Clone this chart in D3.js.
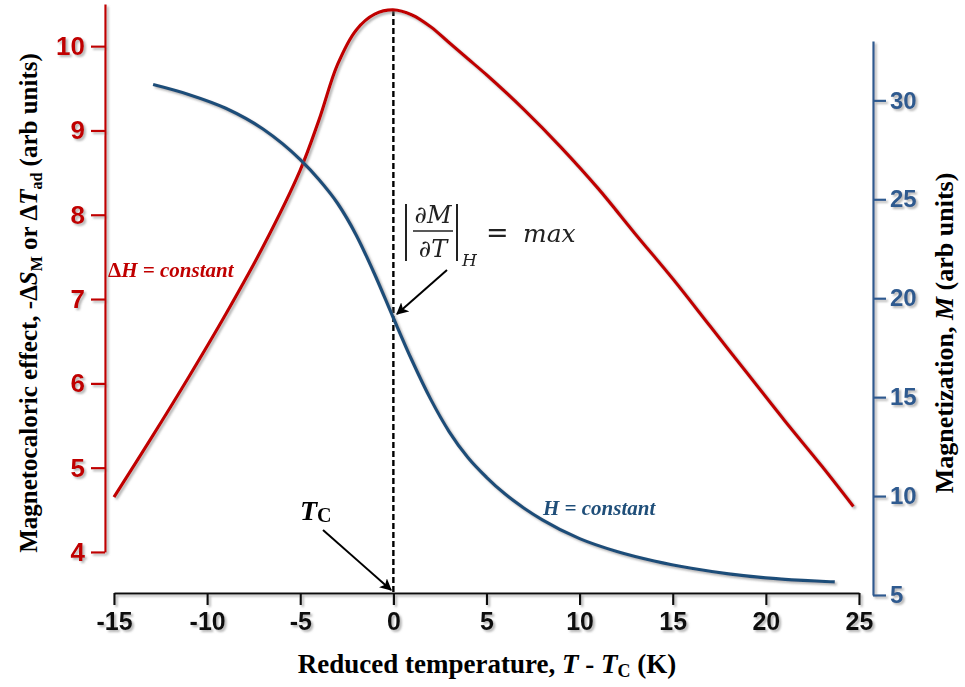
<!DOCTYPE html>
<html>
<head>
<meta charset="utf-8">
<script src="https://cdn.jsdelivr.net/npm/d3@7"></script>
<style>
  body { margin: 0; background: #fff; }
  svg { display: block; }
  .serif { font-family: "Liberation Serif", "Times New Roman", serif; font-weight: bold; }
  .tick text { font-family: "Liberation Sans Narrow", "Liberation Sans", Arial, sans-serif; font-weight: bold; }
</style>
</head>
<body>
<div class="graph-goes-here"></div>
<script>
// tick values
var tempTicks = [-15, -10, -5, 0, 5, 10, 15, 20, 25];
var mceTicks = [4, 5, 6, 7, 8, 9, 10];
var magTicks = [5, 10, 15, 20, 25, 30];

// magnetocaloric effect (left axis)
var mceTemp = [-15, -13, -11, -9, -7, -5, -4, -3, -2, -1, 0, 1, 2, 3, 4, 5, 7, 9, 11, 13, 15, 17, 19, 21, 23, 24.7];
var mceValues = [4.65, 5.35, 6.07, 6.82, 7.62, 8.53, 9.12, 9.78, 10.19, 10.38, 10.43, 10.37, 10.23, 10.04, 9.85, 9.66, 9.25, 8.80, 8.31, 7.77, 7.24, 6.68, 6.12, 5.56, 5.02, 4.54];

// magnetization (right axis)
var magTemp = [-12.9, -11, -9, -7, -5, -4, -3, -2, -1, 0, 1, 2, 3, 4, 5, 6, 7, 8, 10, 12, 14, 16, 18, 20, 22, 23.7];
var magValues = [30.8, 30.3, 29.6, 28.55, 27.0, 26.0, 24.8, 23.2, 21.2, 19.0, 16.85, 14.9, 13.25, 11.95, 10.95, 10.1, 9.4, 8.8, 7.85, 7.2, 6.72, 6.35, 6.07, 5.87, 5.74, 5.66];

var red = "#c00000", blue = "#1f4e79", blueAxis = "#2f5a8f";
var width = 965, height = 687;

var svg = d3.select(".graph-goes-here")
    .append("svg")
    .attr("width", width)
    .attr("height", height);

var defs = svg.append("defs");
defs.append("filter").attr("id", "shadow")
    .attr("x", "-20%").attr("y", "-20%").attr("width", "140%").attr("height", "140%")
    .append("feDropShadow")
    .attr("dx", 2).attr("dy", 2).attr("stdDeviation", 1.2)
    .attr("flood-color", "#777").attr("flood-opacity", 0.55);
var marker = defs.append("marker").attr("id", "arrow")
    .attr("viewBox", "0 0 10 10").attr("refX", 9).attr("refY", 5)
    .attr("markerWidth", 6).attr("markerHeight", 6)
    .attr("markerUnits", "strokeWidth")
    .attr("orient", "auto");
marker.append("path").attr("d", "M0,0L10,5L0,10L2.5,5Z").attr("fill", "black");

var tempScale = d3.scaleLinear().domain([-15, 25]).range([114, 859]);
var mceScale = d3.scaleLinear().domain([4, 10.5]).range([552, 4]);
var magScale = d3.scaleLinear().domain([5, 33]).range([595, 41]);

var plain = d => String(d);

// axes
var tempAxis = svg.append("g")
    .attr("transform", "translate(0," + 593 + ")")
    .call(d3.axisBottom(tempScale).tickValues(tempTicks).tickSize(12).tickSizeOuter(0).tickPadding(4).tickFormat(plain));
tempAxis.selectAll("path, line").attr("stroke", "#111").attr("stroke-width", 2.2);
tempAxis.selectAll("text").attr("fill", "#111").style("font-size", "25px").attr("dy", "0.85em");
tempAxis.attr("filter", "url(#shadow)");

var mceAxis = svg.append("g")
    .attr("transform", "translate(105,0)")
    .call(d3.axisLeft(mceScale).tickValues(mceTicks).tickSize(14).tickSizeOuter(0).tickPadding(6).tickFormat(plain));
mceAxis.selectAll("path, line").attr("stroke", red).attr("stroke-width", 2.2);
mceAxis.selectAll("text").attr("fill", red).style("font-size", "26px");
mceAxis.attr("filter", "url(#shadow)");

var magAxis = svg.append("g")
    .attr("transform", "translate(873,0)")
    .call(d3.axisRight(magScale).tickValues(magTicks).tickSize(13).tickSizeOuter(0).tickPadding(4).tickFormat(plain));
magAxis.selectAll("path, line").attr("stroke", blueAxis).attr("stroke-width", 2.2);
magAxis.selectAll("text").attr("fill", blueAxis).style("font-size", "24px");
magAxis.attr("filter", "url(#shadow)");

// dashed line at T = Tc
svg.append("line")
    .attr("x1", tempScale(0)).attr("x2", tempScale(0))
    .attr("y1", mceScale(10.43)).attr("y2", 593)
    .attr("stroke", "black").attr("stroke-width", 2.4)
    .attr("stroke-dasharray", "6,3");

// curves
var mcePoints = mceTemp.map((t, i) => ({ t: t, v: mceValues[i] }));
var magPoints = magTemp.map((t, i) => ({ t: t, v: magValues[i] }));

svg.append("path")
    .datum(mcePoints)
    .attr("fill", "none")
    .attr("stroke", red)
    .attr("stroke-width", 3.2)
    .attr("filter", "url(#shadow)")
    .attr("d", d3.line()
        .curve(d3.curveCatmullRom.alpha(0.5))
        .x(d => tempScale(d.t))
        .y(d => mceScale(d.v)));

svg.append("path")
    .datum(magPoints)
    .attr("fill", "none")
    .attr("stroke", blue)
    .attr("stroke-width", 3.2)
    .attr("filter", "url(#shadow)")
    .attr("d", d3.line()
        .curve(d3.curveMonotoneX)
        .x(d => tempScale(d.t))
        .y(d => magScale(d.v)));

// axis titles
svg.append("text").attr("class", "serif")
    .attr("x", 487).attr("y", 673)
    .attr("text-anchor", "middle")
    .style("font-size", "27px")
    .html('Reduced temperature, <tspan font-style="italic">T</tspan> - <tspan font-style="italic">T</tspan><tspan font-size="18px" dy="4">C</tspan><tspan dy="-4"> (K)</tspan>');

svg.append("text").attr("class", "serif")
    .attr("transform", "translate(37,303) rotate(-90)")
    .attr("text-anchor", "middle")
    .style("font-size", "25px")
    .html('Magnetocaloric effect, -Δ<tspan font-style="italic">S</tspan><tspan font-size="16px" dy="5">M</tspan><tspan dy="-5"> or Δ</tspan><tspan font-style="italic">T</tspan><tspan font-size="16px" dy="5">ad</tspan><tspan dy="-5"> (arb units)</tspan>');

svg.append("text").attr("class", "serif")
    .attr("transform", "translate(953,333) rotate(-90)")
    .attr("text-anchor", "middle")
    .style("font-size", "26px")
    .html('Magnetization, <tspan font-style="italic">M</tspan> (arb units)');

// curve labels
svg.append("text").attr("class", "serif")
    .attr("x", 108).attr("y", 277)
    .attr("fill", red).style("font-size", "21px").style("font-style", "italic")
    .html('<tspan font-style="normal">Δ</tspan>H = constant');

svg.append("text").attr("class", "serif")
    .attr("x", 543).attr("y", 515)
    .attr("fill", blue).style("font-size", "21px").style("font-style", "italic")
    .text("H = constant");

// Tc label and arrow
svg.append("text").attr("class", "serif")
    .attr("x", 300).attr("y", 520)
    .style("font-size", "28px")
    .html('<tspan font-style="italic">T</tspan><tspan font-size="20px" dy="2">C</tspan>');
svg.append("line")
    .attr("x1", 323).attr("y1", 530).attr("x2", 391).attr("y2", 590)
    .attr("stroke", "black").attr("stroke-width", 2)
    .attr("marker-end", "url(#arrow)");

// |dM/dT|_H = max
var formula = svg.append("g")
    .style("font-family", "'DejaVu Serif', 'Liberation Serif', serif")
    .style("font-style", "italic");
formula.append("line").attr("x1", 406).attr("x2", 406).attr("y1", 204).attr("y2", 261).attr("stroke", "#222").attr("stroke-width", 2);
formula.append("line").attr("x1", 457).attr("x2", 457).attr("y1", 204).attr("y2", 261).attr("stroke", "#222").attr("stroke-width", 2);
formula.append("line").attr("x1", 413).attr("x2", 453).attr("y1", 231).attr("y2", 231).attr("stroke", "#222").attr("stroke-width", 1.6);
formula.append("text").attr("x", 433).attr("y", 223).attr("text-anchor", "middle").style("font-size", "24px").attr("fill", "#222").text("∂M");
formula.append("text").attr("x", 433).attr("y", 257).attr("text-anchor", "middle").style("font-size", "24px").attr("fill", "#222").text("∂T");
formula.append("text").attr("x", 462).attr("y", 266).style("font-size", "17px").attr("fill", "#222").text("H");
formula.append("text").attr("x", 486).attr("y", 242).style("font-size", "27px").style("font-style", "normal").attr("fill", "#222").text("=");
formula.append("text").attr("x", 523).attr("y", 242).style("font-size", "25px").attr("fill", "#222").text("max");

svg.append("line")
    .attr("x1", 447).attr("y1", 270).attr("x2", 397).attr("y2", 314)
    .attr("stroke", "black").attr("stroke-width", 2)
    .attr("marker-end", "url(#arrow)");
</script>
</body>
</html>
